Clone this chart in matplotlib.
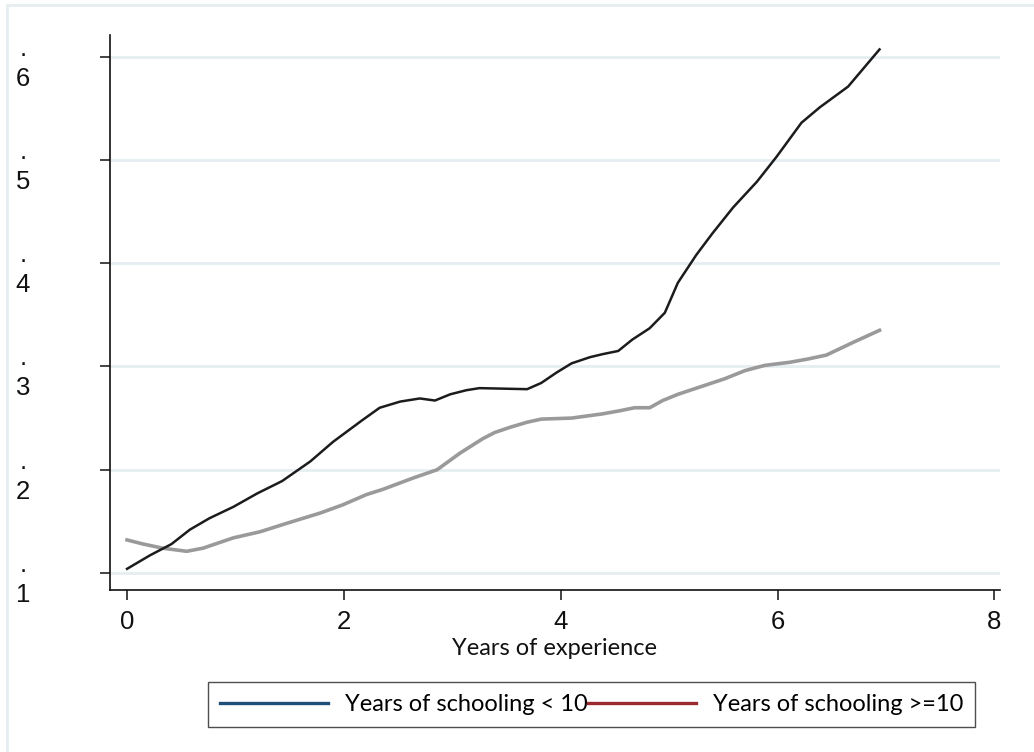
import matplotlib.pyplot as plt
import matplotlib.transforms as mtransforms
from matplotlib.lines import Line2D
from matplotlib.patches import Rectangle

# experience profile, years of schooling < 10 (black) and >= 10 (gray)
x_low = [0.00, 0.21, 0.41, 0.58, 0.76, 0.98, 1.20, 1.43, 1.69, 1.90, 2.17, 2.33,
         2.52, 2.70, 2.84, 2.98, 3.13, 3.25, 3.69, 3.82, 3.96, 4.10, 4.27, 4.39,
         4.53, 4.66, 4.82, 4.96, 5.08, 5.25, 5.40, 5.59, 5.81, 5.99, 6.22, 6.39,
         6.65, 6.94]
y_low = [1.04, 1.17, 1.28, 1.42, 1.53, 1.64, 1.77, 1.89, 2.08, 2.27, 2.48, 2.60,
         2.66, 2.69, 2.67, 2.73, 2.77, 2.79, 2.78, 2.84, 2.94, 3.03, 3.09, 3.12,
         3.15, 3.26, 3.37, 3.52, 3.81, 4.08, 4.29, 4.54, 4.79, 5.03, 5.36, 5.51,
         5.71, 6.07]

x_high = [0.00, 0.15, 0.33, 0.55, 0.70, 0.98, 1.23, 1.47, 1.78, 1.99, 2.21, 2.36,
          2.64, 2.86, 3.07, 3.28, 3.39, 3.53, 3.69, 3.82, 4.10, 4.38, 4.54, 4.68,
          4.82, 4.94, 5.08, 5.28, 5.51, 5.70, 5.88, 6.11, 6.27, 6.45, 6.69, 6.94]
y_high = [1.32, 1.28, 1.24, 1.21, 1.24, 1.34, 1.40, 1.48, 1.58, 1.66, 1.76, 1.81,
          1.92, 2.00, 2.16, 2.30, 2.36, 2.41, 2.46, 2.49, 2.50, 2.54, 2.57, 2.60,
          2.60, 2.67, 2.73, 2.80, 2.88, 2.96, 3.01, 3.04, 3.07, 3.11, 3.23, 3.35]

xticks = [0, 2, 4, 6, 8]
yticks = [1, 2, 3, 4, 5, 6]
legend_labels = ['Years of schooling < 10', 'Years of schooling >=10']

fig = plt.figure(figsize=(10.34, 7.52), dpi=100)
ax = fig.add_axes([0.1064, 0.2154, 0.8606, 0.7381])

for y in yticks:
    ax.axhline(y, color='#e6eef1', lw=2.0, zorder=0)

ax.plot(x_high, y_high, color='#9a9a9a', lw=2.6, zorder=2)
ax.plot(x_low, y_low, color='#1c1c1c', lw=1.8, zorder=3)

ax.set_xlim(-0.157, 8.05)
ax.set_ylim(0.835, 6.21)

for s in ['top', 'right']:
    ax.spines[s].set_visible(False)
for s in ['left', 'bottom']:
    ax.spines[s].set_linewidth(1.2)
    ax.spines[s].set_color('#111111')

ax.set_xticks(xticks)
ax.set_xticklabels([str(v) for v in xticks], fontsize=18.5, family='Liberation Sans')
ax.tick_params(axis='x', length=7.5, width=1.1, pad=7, colors='#111111')
ax.set_yticks(yticks)
ax.set_yticklabels([])
ax.tick_params(axis='y', length=7.5, width=1.1, colors='#111111')

# y labels: a dot just above the tick, number below it
ytr = ax.get_yaxis_transform()
for y in yticks:
    t_dot = ytr + mtransforms.ScaledTranslation(-87 / 100, 1 / 100, fig.dpi_scale_trans)
    t_num = ytr + mtransforms.ScaledTranslation(-87 / 100, -22 / 100, fig.dpi_scale_trans)
    ax.text(0, y, '.', transform=t_dot, ha='center', va='baseline',
            fontsize=18.5, family='Liberation Sans', color='#111111')
    ax.text(0, y, str(y), transform=t_num, ha='center', va='center',
            fontsize=18.5, family='Liberation Sans', color='#111111')

ax.set_xlabel('Years of experience', fontsize=17, family='Lato', labelpad=3,
              color='#111111')

handles = [Line2D([], [], color='#1f4e79', lw=2.4),
           Line2D([], [], color='#9b2a30', lw=2.4)]
leg = fig.legend(handles, legend_labels, loc='center', bbox_to_anchor=(0.572, 0.0632),
                 ncol=2, frameon=True, fancybox=False, handlelength=4.6,
                 handletextpad=0.7, columnspacing=0.0, borderpad=0.5,
                 borderaxespad=0, prop={'family': 'Lato', 'size': 17})
leg.get_frame().set_edgecolor('#222222')
leg.get_frame().set_linewidth(1.0)

# thin frame around the graph region
fig.patches.append(Rectangle((7 / 1034, -0.05), 1.1, 1 - 5 / 752 + 0.05,
                             transform=fig.transFigure, fill=False,
                             edgecolor='#e6eef1', lw=2.0))

fig.savefig('out.png', dpi=100)
